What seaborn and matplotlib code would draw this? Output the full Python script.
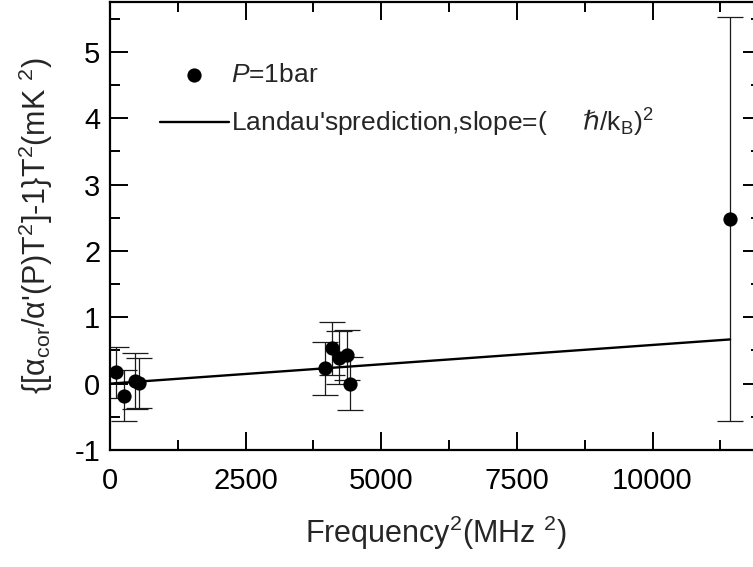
import matplotlib
matplotlib.use("Agg")
import matplotlib.pyplot as plt
import seaborn as sns
import pandas as pd
from matplotlib.ticker import MultipleLocator

# ---- data ----
freq2 = [110, 258, 470, 540, 3960, 4095, 4224, 4360, 4420, 11430]      # MHz^2
yval = [0.17, -0.18, 0.04, 0.01, 0.23, 0.53, 0.39, 0.43, 0.00, 2.48]   # mK^2
yerr = [0.38, 0.39, 0.42, 0.38, 0.40, 0.40, 0.40, 0.38, 0.40, 3.04]
landau_x = [0, 11430]
landau_y = [0.0, 0.666]   # slope = (hbar/kB)^2
xticks = [0, 2500, 5000, 7500, 10000]
yticks = [-1, 0, 1, 2, 3, 4, 5]

sns.set_theme(style="ticks")
plt.rcParams["font.family"] = ["Liberation Sans", "DejaVu Sans"]
plt.rcParams["mathtext.fontset"] = "custom"
plt.rcParams["mathtext.rm"] = "Liberation Sans"
plt.rcParams["mathtext.it"] = "Liberation Sans:italic"
plt.rcParams["mathtext.bf"] = "Liberation Sans:bold"
plt.rcParams["mathtext.sf"] = "DejaVu Sans"
plt.rcParams["axes.unicode_minus"] = False

df = pd.DataFrame({"f2": freq2, "y": yval, "err": yerr})
dl = pd.DataFrame({"x": landau_x, "y": landau_y})

fig = plt.figure(figsize=(7.53, 5.67), dpi=100)
ax = fig.add_axes([110 / 753, 117 / 567, 651 / 753, 448 / 567])

ax.errorbar(df["f2"], df["y"], yerr=df["err"], fmt="none", ecolor="#1a1a1a",
            elinewidth=0.9, capsize=9.5, capthick=0.9, zorder=2)
landau_label = ("Landau'sprediction,slope=(     $\\mathsf{\u210f}$/k$_\\mathregular{B}$)"
                "$^\\mathregular{2}$")
sns.lineplot(data=dl, x="x", y="y", color="black", linewidth=1.7, ax=ax,
             label=landau_label, zorder=3)
sns.scatterplot(data=df, x="f2", y="y", color="black", s=105, linewidth=0,
                ax=ax, label="$P$=1bar", zorder=4)

ax.set_xlim(0, 12000)
ax.set_ylim(-1, 5.75)
ax.set_xticks(xticks)
ax.set_yticks(yticks)
ax.xaxis.set_minor_locator(MultipleLocator(1250))
ax.yaxis.set_minor_locator(MultipleLocator(0.5))
ax.tick_params(which="both", direction="in", top=True, right=True,
               width=1.4, colors="black", labelsize=21)
ax.tick_params(axis="x", which="both", pad=12)
ax.tick_params(axis="y", which="both", pad=7)
ax.tick_params(which="major", length=13)
ax.tick_params(which="minor", length=7)
for s in ax.spines.values():
    s.set_linewidth(1.6)
    s.set_color("black")

ax.set_xlabel("Frequency$^\\mathregular{2}$(MHz $^\\mathregular{2}$)", fontsize=22, labelpad=14)
ax.set_ylabel("{[$\\mathregular{\\alpha}_\\mathregular{cor}$/$\\mathregular{\\alpha}$'(P)T$^\\mathregular{2}$]-1}"
              "T$^\\mathregular{2}$(mK $^\\mathregular{2}$)",
              fontsize=22, labelpad=14)

h, l = ax.get_legend_handles_labels()
i_p = l.index("$P$=1bar")
order = [i_p, 1 - i_p]
ax.legend([h[i] for i in order], [l[i] for i in order], frameon=False,
          loc="upper left", bbox_to_anchor=(160 / 753, 1 - 63 / 567),
          bbox_transform=fig.transFigure, fontsize=19, handlelength=2.6,
          handletextpad=0.08, labelspacing=0.75, borderpad=0, borderaxespad=0)

fig.savefig("out.png", dpi=100)
